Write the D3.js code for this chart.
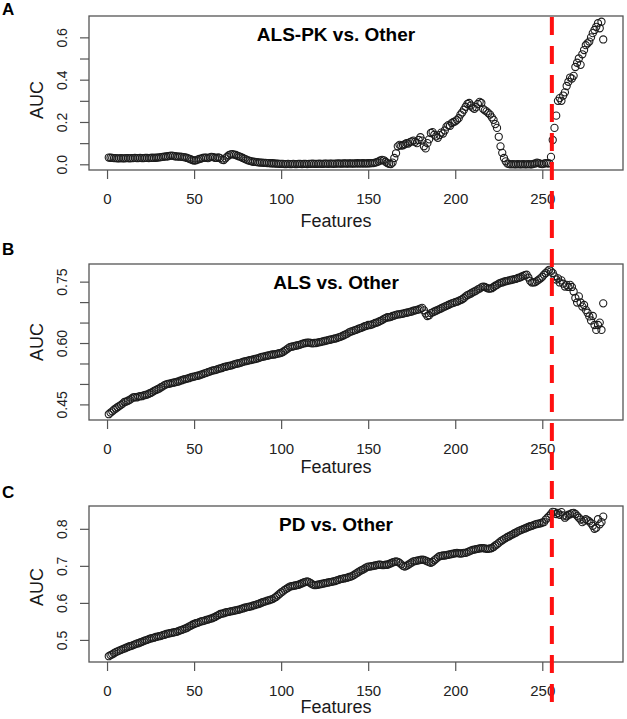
<!DOCTYPE html>
<html>
<head>
<meta charset="utf-8">
<script src="https://cdn.jsdelivr.net/npm/d3@7"></script>
<style>
  body { margin: 0; background: #fff; }
  text { font-family: "Liberation Sans", Arial, sans-serif; }
</style>
</head>
<body>
<div id="chart"></div>
<script>
// AUC per number of features
const alsPk = [
  .032,.031,.030,.029,.029,.028,.028,.029,.028,.028,
  .029,.029,.028,.029,.029,.030,.029,.029,.030,.029,
  .029,.030,.030,.029,.030,.031,.030,.031,.032,.033,
  .034,.035,.036,.037,.038,.040,.041,.040,.038,.037,
  .036,.036,.035,.034,.033,.030,.027,.024,.020,.018,
  .019,.022,.025,.027,.030,.032,.031,.029,.033,.035,
  .034,.031,.030,.033,.029,.022,.020,.028,.036,.043,
  .047,.048,.046,.044,.040,.037,.034,.030,.026,.022,
  .019,.016,.014,.012,.011,.010,.009,.008,.008,.007,
  .007,.006,.006,.005,.005,.004,.003,.003,.002,.002,
  .002,.001,.001,.002,.001,.001,.002,.001,.001,.002,
  .002,.001,.002,.002,.001,.002,.002,.003,.002,.002,
  .002,.003,.002,.002,.003,.003,.002,.003,.003,.002,
  .003,.003,.004,.003,.003,.004,.004,.003,.004,.004,
  .003,.004,.004,.005,.004,.004,.005,.004,.004,.005,
  .005,.006,.006,.008,.010,.014,.018,.021,.019,.012,
  .006,.002,.001,.008,.030,.052,.085,.092,.088,.090,
  .095,.100,.098,.105,.108,.112,.106,.100,.115,.128,
  .112,.085,.075,.100,.118,.148,.152,.140,.132,.125,
  .138,.150,.145,.160,.178,.185,.182,.195,.200,.203,
  .210,.218,.235,.245,.258,.272,.285,.290,.278,.268,
  .262,.270,.285,.295,.290,.262,.255,.250,.242,.235,
  .222,.210,.190,.172,.130,.085,.054,.030,.014,.003,
  .001,.000,.001,.000,.000,.001,.000,.000,.001,.000,
  .000,.001,.000,.000,.002,.004,.008,.006,.002,.001,
  .003,.006,.005,.004,.035,.115,.172,.230,.300,.313,
  .300,.325,.340,.370,.390,.410,.405,.418,.460,.480,
  .500,.470,.520,.540,.563,.572,.580,.600,.620,.635,
  .650,.667,.643,.674,.590
];

const als = [
  .426,.430,.433,.437,.440,.443,.446,.449,.452,.456,
  .457,.459,.461,.464,.467,.468,.467,.469,.470,.470,
  .472,.473,.474,.476,.478,.480,.483,.485,.487,.489,
  .492,.494,.497,.499,.500,.501,.502,.503,.504,.505,
  .506,.508,.509,.511,.512,.513,.514,.516,.517,.518,
  .519,.520,.521,.523,.524,.526,.527,.529,.530,.532,
  .533,.534,.535,.537,.538,.539,.541,.542,.543,.544,
  .545,.546,.548,.549,.550,.551,.552,.554,.555,.556,
  .557,.558,.559,.560,.561,.562,.563,.565,.566,.567,
  .568,.569,.570,.571,.572,.572,.573,.574,.575,.576,
  .578,.581,.584,.587,.590,.591,.592,.593,.594,.595,
  .596,.598,.599,.600,.601,.601,.600,.599,.600,.600,
  .601,.602,.603,.604,.605,.606,.607,.608,.609,.610,
  .611,.612,.614,.615,.617,.619,.621,.623,.626,.628,
  .629,.631,.632,.634,.636,.637,.639,.641,.642,.644,
  .644,.645,.647,.649,.650,.652,.654,.656,.659,.661,
  .663,.663,.664,.666,.667,.669,.670,.670,.671,.672,
  .673,.674,.675,.676,.677,.679,.680,.681,.682,.684,
  .686,.680,.672,.666,.668,.673,.675,.677,.679,.681,
  .683,.685,.687,.689,.691,.693,.695,.697,.698,.700,
  .701,.703,.705,.707,.710,.714,.717,.719,.721,.724,
  .726,.728,.731,.733,.736,.738,.737,.735,.733,.733,
  .734,.737,.740,.742,.745,.747,.748,.750,.751,.752,
  .753,.754,.755,.756,.757,.759,.760,.762,.764,.766,
  .767,.760,.752,.748,.748,.749,.752,.755,.758,.762,
  .767,.771,.775,.779,.775,.771,.763,.755,.758,.748,
  .753,.745,.738,.742,.737,.742,.737,.726,.710,.699,
  .714,.699,.689,.693,.681,.674,.665,.655,.666,.644,
  .632,.644,.650,.632,.697
];

const pd = [
  .456,.459,.461,.464,.467,.469,.471,.473,.475,.477,
  .479,.481,.483,.484,.486,.488,.490,.491,.493,.495,
  .497,.499,.500,.502,.504,.505,.506,.508,.509,.510,
  .511,.513,.514,.516,.517,.518,.519,.520,.521,.522,
  .524,.526,.527,.529,.531,.533,.536,.538,.541,.543,
  .545,.546,.548,.550,.551,.552,.554,.555,.557,.558,
  .560,.562,.565,.567,.570,.571,.572,.574,.575,.576,
  .577,.578,.579,.580,.581,.582,.584,.585,.587,.588,
  .589,.590,.591,.593,.594,.596,.597,.599,.601,.603,
  .604,.606,.607,.609,.610,.613,.616,.620,.624,.628,
  .631,.635,.638,.641,.644,.645,.646,.647,.648,.649,
  .651,.653,.655,.657,.658,.656,.653,.650,.648,.648,
  .649,.650,.651,.652,.653,.654,.655,.656,.657,.658,
  .659,.661,.662,.664,.665,.666,.667,.668,.670,.671,
  .673,.676,.679,.682,.685,.688,.690,.693,.696,.698,
  .698,.699,.700,.701,.702,.703,.703,.702,.702,.703,
  .703,.705,.707,.709,.711,.712,.711,.708,.704,.700,
  .698,.700,.703,.706,.709,.712,.713,.714,.715,.716,
  .717,.716,.714,.712,.710,.708,.711,.715,.719,.723,
  .726,.727,.728,.728,.729,.730,.731,.732,.733,.734,
  .735,.734,.733,.734,.735,.735,.737,.739,.741,.743,
  .744,.745,.746,.747,.748,.748,.747,.746,.746,.747,
  .748,.751,.755,.758,.762,.766,.769,.772,.775,.778,
  .780,.783,.785,.788,.790,.793,.795,.797,.799,.801,
  .803,.805,.807,.808,.810,.812,.813,.814,.815,.817,
  .818,.825,.830,.835,.840,.846,.845,.840,.843,.838,
  .845,.836,.830,.834,.838,.839,.842,.843,.840,.835,
  .830,.825,.818,.822,.826,.823,.820,.815,.808,.800,
  .803,.826,.812,.818,.833
];

const titles = ["ALS-PK vs. Other", "ALS vs. Other", "PD vs. Other"];
const letters = ["A", "B", "C"];
const xTicks = [0, 50, 100, 150, 200, 250];
const yTicks = [
  [0, 0.1, 0.2, 0.3, 0.4, 0.5, 0.6],
  [0.45, 0.5, 0.55, 0.6, 0.65, 0.7, 0.75],
  [0.5, 0.6, 0.7, 0.8]
];
const yLabelled = [
  [0, 0.2, 0.4, 0.6],
  [0.45, 0.6, 0.75],
  [0.5, 0.6, 0.7, 0.8]
];
const cutoff = 255.5;   // red dashed line

// page layout
const width = 627, height = 719;
const left = 89, right = 623, textX = 336;
const layout = [
  {top: 16,  bottom: 170, letterY: 15,  ylabY: 100, featY: 227, fmt: ".1f"},
  {top: 264, bottom: 420, letterY: 255, ylabY: 342, featY: 473, fmt: ".2f"},
  {top: 506, bottom: 662, letterY: 498, ylabY: 587, featY: 713, fmt: ".1f"}
];
const series = [alsPk, als, pd];

const svg = d3.select("#chart")
  .append("svg")
  .attr("width", width)
  .attr("height", height);

// R style range: data extent widened by 4% each side
function padded([lo, hi]) {
  const r = hi - lo;
  return [lo - 0.04 * r, hi + 0.04 * r];
}

const features = alsPk.map((d, i) => i + 1);
const x = d3.scaleLinear().domain(padded(d3.extent(features))).range([left, right]);

series.forEach((values, i) => {
  const L = layout[i];
  const g = svg.append("g");
  const y = d3.scaleLinear().domain(padded(d3.extent(values))).range([L.bottom, L.top]);
  const fmt = d3.format(L.fmt);

  // x axis
  const xa = g.append("g")
    .attr("transform", `translate(0,${L.bottom})`)
    .call(d3.axisBottom(x).tickValues(xTicks).tickSize(9).tickFormat(d3.format("d")));
  xa.select(".domain").remove();
  xa.selectAll("line").attr("stroke", "#555").attr("stroke-width", 1.2);
  xa.selectAll("text")
    .attr("y", 34).attr("dy", null)
    .attr("fill", "#222")
    .style("font-size", "15px");

  // y axis, labels rotated like R
  const ya = g.append("g")
    .attr("transform", `translate(${left},0)`)
    .call(d3.axisLeft(y).tickValues(yTicks[i]).tickSize(9)
      .tickFormat(d => yLabelled[i].some(v => Math.abs(v - d) < 1e-9) ? fmt(d) : ""));
  ya.select(".domain").remove();
  ya.selectAll("line").attr("stroke", "#555").attr("stroke-width", 1.2);
  ya.selectAll("text")
    .attr("transform", "rotate(-90)")
    .attr("x", 0).attr("y", -22).attr("dy", null)
    .attr("text-anchor", "middle")
    .attr("fill", "#222")
    .style("font-size", "14px");

  // plot box
  g.append("rect")
    .attr("x", left).attr("y", L.top)
    .attr("width", right - left).attr("height", L.bottom - L.top)
    .attr("fill", "none")
    .attr("stroke", "#555")
    .attr("stroke-width", 1.3);

  // points
  g.selectAll(".pt")
    .data(values)
    .enter().append("circle")
    .attr("class", "pt")
    .attr("cx", (d, j) => x(features[j]))
    .attr("cy", d => y(d))
    .attr("r", 3.6)
    .attr("fill", "none")
    .attr("stroke", "#1c1c1c")
    .attr("stroke-width", 1.1);

  // texts
  g.append("text")
    .attr("x", textX).attr("y", L.top + 25)
    .attr("text-anchor", "middle")
    .style("font-size", "19px").style("font-weight", "bold")
    .text(titles[i]);

  g.append("text")
    .attr("x", 2).attr("y", L.letterY)
    .style("font-size", "17px").style("font-weight", "bold")
    .text(letters[i]);

  g.append("text")
    .attr("transform", `translate(43,${L.ylabY}) rotate(-90)`)
    .attr("text-anchor", "middle")
    .attr("fill", "#1a1a1a")
    .style("font-size", "18px")
    .text("AUC");

  g.append("text")
    .attr("x", textX).attr("y", L.featY)
    .attr("text-anchor", "middle")
    .attr("fill", "#1a1a1a")
    .style("font-size", "18px")
    .text("Features");
});

// red dashed cut-off line across all panels
svg.append("line")
  .attr("x1", x(cutoff)).attr("x2", x(cutoff))
  .attr("y1", 17).attr("y2", 708)
  .attr("stroke", "#ff1010")
  .attr("stroke-width", 4)
  .attr("stroke-dasharray", "18,11");
</script>
</body>
</html>
